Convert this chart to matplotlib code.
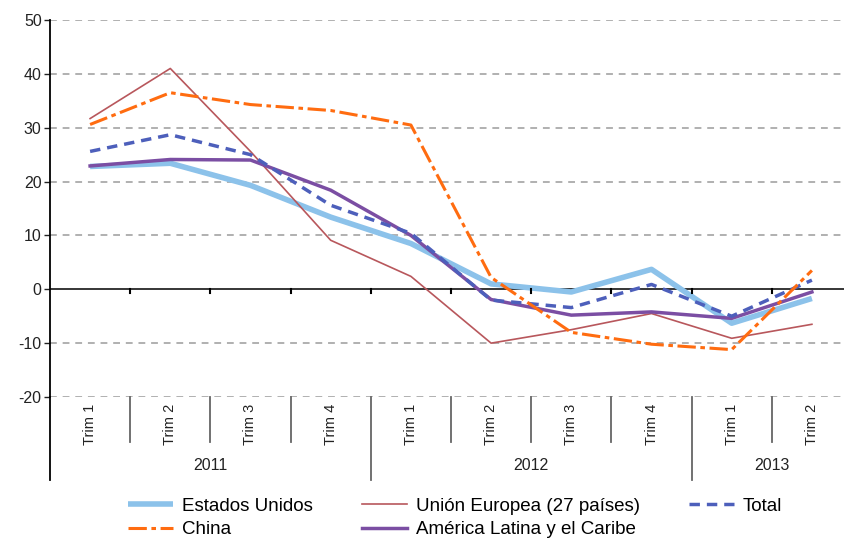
import matplotlib
matplotlib.use("Agg")
import matplotlib.pyplot as plt
import numpy as np

plt.rcParams["font.family"] = ["Liberation Sans", "DejaVu Sans"]
plt.rcParams["axes.unicode_minus"] = False

quarters = ["Trim 1", "Trim 2", "Trim 3", "Trim 4",
            "Trim 1", "Trim 2", "Trim 3", "Trim 4",
            "Trim 1", "Trim 2"]
years = ["2011", "2012", "2013"]
year_sizes = [4, 4, 2]

estados_unidos = [22.8, 23.4, 19.3, 13.4, 8.5, 1.0, -0.5, 3.7, -6.3, -1.7]
union_europea = [31.7, 41.0, 25.6, 9.1, 2.4, -10.0, -7.5, -4.5, -9.1, -6.5]
total = [25.6, 28.7, 25.0, 15.6, 10.4, -2.0, -3.4, 0.9, -5.0, 1.7]
china = [30.6, 36.5, 34.3, 33.2, 30.5, 2.2, -8.0, -10.2, -11.2, 3.5]
america_latina = [22.9, 24.1, 24.0, 18.4, 10.0, -1.9, -4.8, -4.2, -5.4, -0.5]

W, H = 844, 543
fig = plt.figure(figsize=(W / 100, H / 100), dpi=100)
ax = fig.add_axes([50 / W, 1 - 397 / H, (W - 50) / W, 377 / H])

x = np.arange(len(quarters))
l_us, = ax.plot(x, estados_unidos, color="#8cc2ea", lw=4, solid_capstyle="butt",
                label="Estados Unidos")
l_eu, = ax.plot(x, union_europea, color="#b8575c", lw=1.2, label="Unión Europea (27 países)")
l_la, = ax.plot(x, america_latina, color="#7b4ea3", lw=2.5, label="América Latina y el Caribe")
l_tot, = ax.plot(x, total, color="#4d5fbb", lw=2.5, ls=(0, (3, 2)), label="Total")
l_cn, = ax.plot(x, china, color="#ff6c10", lw=2.2, ls=(0, (6, 1.5, 1.5, 1.5)), label="China")

ax.set_ylim(-20, 50)
ax.set_xlim(-0.5, -0.5 + (W - 50) / 80.2)
ax.set_yticks(range(-20, 51, 10))
for v in range(-20, 51, 10):
    if v != 0:
        ax.axhline(v, color="#b0b0b0", lw=1.4, ls=(0, (3.5, 3)), zorder=0)
ax.axhline(0, color="black", lw=1.1, zorder=1)
# little ticks on the zero line at category boundaries
for b in x[:-1] + 0.5:
    ax.plot([b, b], [0, -0.6], color="black", lw=1.5)

for s in ["top", "right", "bottom"]:
    ax.spines[s].set_visible(False)
ax.spines["left"].set_bounds(-20, 50)
ax.spines["left"].set_linewidth(1.3)
ax.set_xticks([])
ax.tick_params(axis="y", length=4, width=1, labelsize=11.5, pad=2, colors="#222222")

# category axis below the plot
tr = ax.get_xaxis_transform()
bottom_short = -45 / 377
bottom_long = -83 / 377
ax.plot([-0.5, -0.5], [0, bottom_long], transform=tr, color="black", lw=1.3, clip_on=False)
for i, q in enumerate(quarters):
    ax.text(i, -7 / 377, q, rotation=90, ha="center", va="top", fontsize=10.5,
            transform=tr, color="#222222")
ends = np.cumsum(year_sizes)
for i in range(1, len(quarters)):
    long_line = i in ends
    ax.plot([i - 0.5, i - 0.5], [0, bottom_long if long_line else bottom_short],
            transform=tr, color="#666666", lw=1.3, clip_on=False)
start = 0
for yr, n in zip(years, year_sizes):
    ax.text(start + (n - 1) / 2, -68 / 377, yr, ha="center", va="center",
            fontsize=11.5, transform=tr, color="#222222")
    start += n

fig.legend(handles=[l_us, l_cn, l_eu, l_la, l_tot], ncol=3, frameon=False,
           loc="upper left", bbox_to_anchor=(120 / W, 1 - 490 / H),
           fontsize=13.5, handlelength=2.4, handletextpad=0.5, columnspacing=2.6,
           labelspacing=0.35, borderaxespad=0)

fig.savefig("out.png", dpi=100)
